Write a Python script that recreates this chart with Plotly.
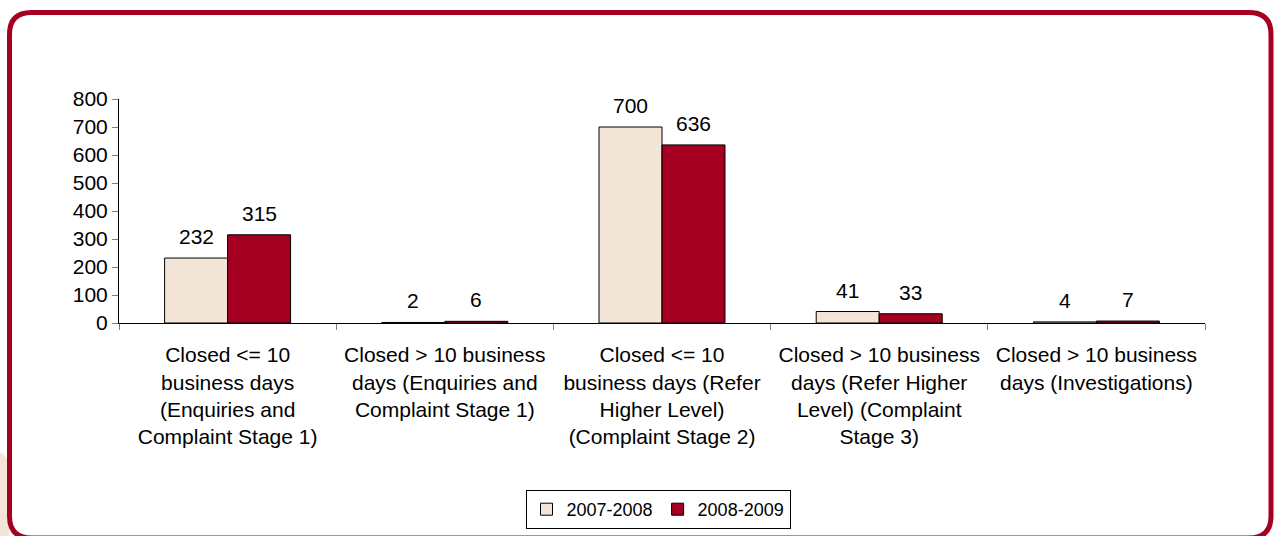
import plotly.graph_objects as go

categories = [
    "Closed &lt;= 10<br>business days<br>(Enquiries and<br>Complaint Stage 1)",
    "Closed &gt; 10 business<br>days (Enquiries and<br>Complaint Stage 1)",
    "Closed &lt;= 10<br>business days (Refer<br>Higher Level)<br>(Complaint Stage 2)",
    "Closed &gt; 10 business<br>days (Refer Higher<br>Level) (Complaint<br>Stage 3)",
    "Closed &gt; 10 business<br>days (Investigations)",
]
series_names = ["2007-2008", "2008-2009"]
values_2007 = [232, 2, 700, 41, 4]
values_2008 = [315, 6, 636, 33, 7]
y_ticks = [0, 100, 200, 300, 400, 500, 600, 700, 800]

BEIGE = "#F3E5D8"
RED = "#A50021"
FONT = "Liberation Sans, Arial, sans-serif"

# plot area in pixels
L, R, T, B = 119, 1205, 99, 323
BAR_PX = (R - L) / len(categories) * (1 - 0.42) / 2


def fx(px):
    return (px - L) / (R - L)


def fy(py):
    return (B - py) / (B - T)


def rounded_rect(x0, y0, x1, y1, r):
    pts = [
        f"M {fx(x0 + r)},{fy(y0)}",
        f"L {fx(x1 - r)},{fy(y0)}",
        f"Q {fx(x1)},{fy(y0)} {fx(x1)},{fy(y0 + r)}",
        f"L {fx(x1)},{fy(y1 - r)}",
        f"Q {fx(x1)},{fy(y1)} {fx(x1 - r)},{fy(y1)}",
        f"L {fx(x0 + r)},{fy(y1)}",
        f"Q {fx(x0)},{fy(y1)} {fx(x0)},{fy(y1 - r)}",
        f"L {fx(x0)},{fy(y0 + r)}",
        f"Q {fx(x0)},{fy(y0)} {fx(x0 + r)},{fy(y0)}",
        "Z",
    ]
    return " ".join(pts)


fig = go.Figure()
for i, (name, vals, color) in enumerate(((series_names[0], values_2007, BEIGE), (series_names[1], values_2008, RED))):
    fig.add_trace(go.Bar(
        x=categories, y=vals, name=name,
        marker={"color": color, "line": {"color": "black", "width": 1}},
    ))
    for cat, v in zip(categories, vals):
        fig.add_annotation(
            x=cat, y=v, text=str(v), showarrow=False, yanchor="bottom",
            xshift=(i - 0.5) * BAR_PX, yshift=8,
            font={"size": 21, "color": "black", "family": FONT},
        )

# beige blob outside bottom-left corner
fig.add_shape(type="path", xref="paper", yref="paper", layer="below",
              path=rounded_rect(-30, 450, 9, 600, 20),
              fillcolor=BEIGE, line={"width": 0})
# outer rounded frame
fig.add_shape(type="path", xref="paper", yref="paper", layer="above",
              path=rounded_rect(9.5, 12.5, 1271, 538, 22),
              fillcolor="rgba(0,0,0,0)", line={"color": RED, "width": 5})

fig.update_xaxes(
    type="category", tickson="boundaries", ticks="outside", ticklen=6, tickcolor="#808080",
    showline=True, linecolor="black", linewidth=1, showgrid=False,
    tickfont={"size": 21, "color": "black", "family": FONT}, ticklabelstandoff=13,
)
fig.update_yaxes(
    range=[0, 800], tickvals=y_ticks, ticks="outside", ticklen=6, tickcolor="#808080",
    showline=True, linecolor="black", linewidth=1, showgrid=False, zeroline=False,
    tickfont={"size": 21, "color": "black", "family": FONT},
)
fig.update_layout(
    width=1276, height=536,
    margin={"l": L, "r": 1276 - R, "t": T, "b": 536 - B, "autoexpand": False},
    paper_bgcolor="white", plot_bgcolor="white",
    barmode="group", bargap=0.42, bargroupgap=0,
    font={"family": FONT, "color": "black"},
    showlegend=True,
    legend={
        "orientation": "h", "x": fx(658), "xanchor": "center", "y": fy(490), "yanchor": "top",
        "bordercolor": "black", "borderwidth": 1, "font": {"size": 18, "family": FONT},
        "itemwidth": 30, "tracegroupgap": 0,
    },
)

fig.write_html("out.html", config={"displayModeBar": False},
               post_script="document.body.style.margin='0';")
